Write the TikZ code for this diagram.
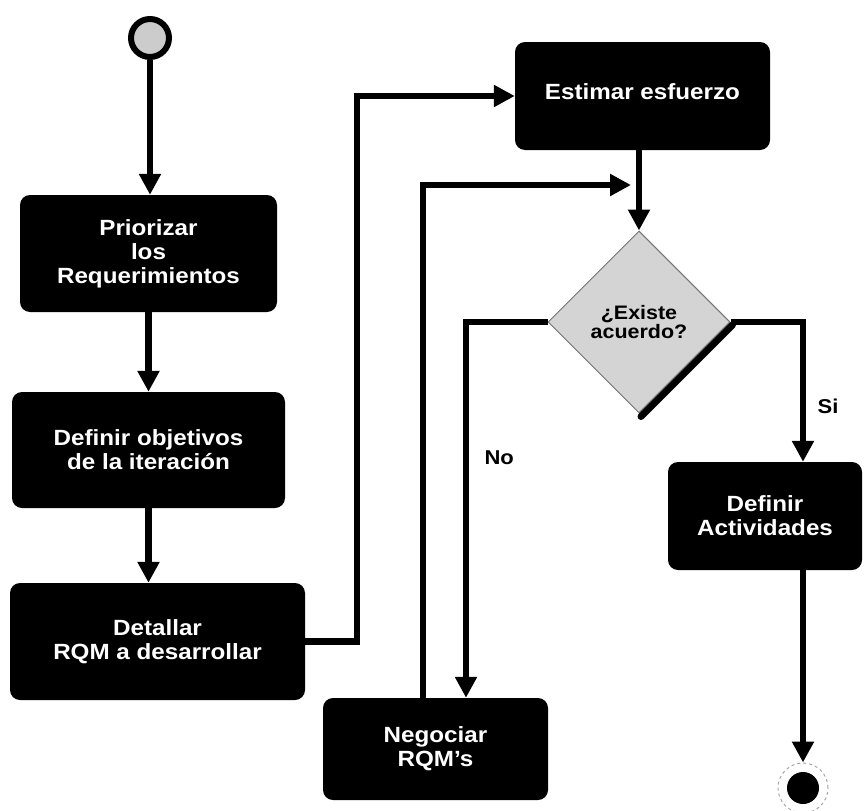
\documentclass[tikz,border=0pt]{standalone}
\usepackage{fontspec}
\setmainfont{Liberation Sans}[FakeStretch=1.1]
\usetikzlibrary{arrows.meta, shapes.geometric, calc}
\definecolor{cgrey}{HTML}{D4D4D4}
\tikzset{
  every picture/.style={font=\bfseries},
  act/.style={fill=black, rounded corners=10pt, text=white, align=center, inner sep=3pt, font=\bfseries\fontsize{22}{24}\selectfont},
  arrow/.style={-{Triangle[length=21pt, width=21pt]}, draw=black, line width=6.5pt},
  guard/.style={font=\bfseries\fontsize{20}{22}\selectfont},
  choice/.style={diamond, draw=black!55, line width=1pt, fill=cgrey, align=center, inner sep=0pt, minimum width=182pt, minimum height=182pt, font=\bfseries\fontsize{19.5}{19}\selectfont},
}

\begin{document}
\begin{tikzpicture}[x=1pt, y=-1pt]
  \useasboundingbox (0,0) rectangle (868,811);
  % start and end
  \node[circle, draw=black, line width=6pt, fill=black!20, minimum size=38pt, inner sep=0pt] (ini) at (150,38) {};
  \node[circle, draw=black!35, line width=1pt, dashed, minimum size=50pt, inner sep=0pt] (fin) at (803,788) {};
  \node[circle, fill=black, minimum size=32pt, inner sep=0pt] (finin) at (fin) {};
  % left column
  \node[act, minimum width=257pt, minimum height=117pt] (prio) at (148.5,253.5) {Priorizar\\los\\Requerimientos};
  \node[act, minimum width=273pt, minimum height=116pt] (obj) at (148.5,450) {Definir objetivos\\de la iteración};
  \node[act, minimum width=295pt, minimum height=117pt] (det) at (157.5,641.5) {Detallar\\RQM a desarrollar};
  % right part
  \node[act, minimum width=255pt, minimum height=108pt] (est) at (642.5,96) {\raisebox{8pt}{Estimar esfuerzo}};
  \node[choice] (dec) at (639,322) {¿Existe\\acuerdo?};
  \draw[line width=7pt, line cap=round] ([shift={(2,3)}]dec.east) -- ([shift={(2,3)}]dec.south);
  \node[act, minimum width=225pt, minimum height=102pt] (neg) at (435.5,749) {Negociar\\RQM's};
  \node[act, minimum width=194pt, minimum height=108pt] (act2) at (765,516) {Definir\\Actividades};
  % flows
  \draw[arrow] (ini.south) -- (ini.south |- prio.north);
  \draw[arrow] (prio.south) -- (prio.south |- obj.north);
  \draw[arrow] (obj.south) -- (obj.south |- det.north);
  \draw[arrow] (det.east) -- ++(52,0) |- (est.west);
  \draw[arrow] (est.south -| dec.north) -- (dec.north);
  \coordinate (join) at (631,185);
  \draw[arrow] ([xshift=-12.5pt]neg.north) |- (join);
  \draw[arrow] (dec.west) -| node[pos=0.68, right=12pt, guard] {No} ([xshift=30.5pt]neg.north);
  \draw[arrow] (dec.east) -| node[pos=0.8, right=8pt, guard] {Si} ([xshift=38pt]act2.north);
  \draw[arrow] (fin |- act2.south) -- (fin.north);
\end{tikzpicture}
\end{document}
